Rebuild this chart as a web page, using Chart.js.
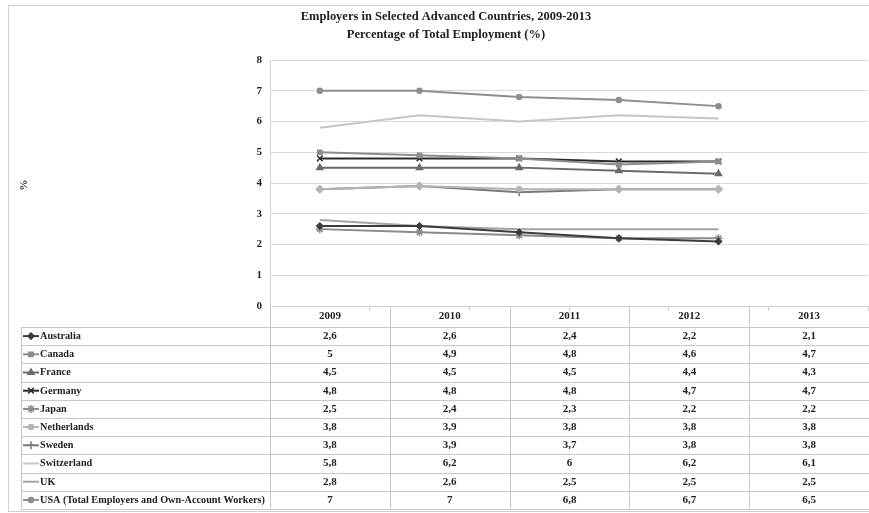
<!DOCTYPE html>
<html>
<head>
<meta charset="utf-8">
<script src="https://cdn.jsdelivr.net/npm/chart.js@4.4.0/dist/chart.umd.min.js"></script>
<style>
  html, body { margin: 0; padding: 0; background: #fff; }
  #wrap { width: 869px; height: 513px; position: relative; }
</style>
</head>
<body>
<div id="wrap"><canvas id="chart"></canvas></div>
<script>
// data (table below the chart)
var years = ['2009', '2010', '2011', '2012', '2013'];
var countries = ['Australia', 'Canada', 'France', 'Germany', 'Japan', 'Netherlands',
                 'Sweden', 'Switzerland', 'UK', 'USA (Total Employers and Own-Account Workers)'];
var australia   = [2.6, 2.6, 2.4, 2.2, 2.1];
var canada      = [5, 4.9, 4.8, 4.6, 4.7];
var france      = [4.5, 4.5, 4.5, 4.4, 4.3];
var germany     = [4.8, 4.8, 4.8, 4.7, 4.7];
var japan       = [2.5, 2.4, 2.3, 2.2, 2.2];
var netherlands = [3.8, 3.9, 3.8, 3.8, 3.8];
var sweden      = [3.8, 3.9, 3.7, 3.8, 3.8];
var switzerland = [5.8, 6.2, 6, 6.2, 6.1];
var uk          = [2.8, 2.6, 2.5, 2.5, 2.5];
var usa         = [7, 7, 6.8, 6.7, 6.5];
var yTicks = [0, 1, 2, 3, 4, 5, 6, 7, 8];
var titleLines = ['Employers in Selected Advanced Countries, 2009-2013', 'Percentage of Total Employment (%)'];

var values = [australia, canada, france, germany, japan, netherlands, sweden, switzerland, uk, usa];
var colors = ['#3c3c3c', '#8c8c8c', '#6a6a6a', '#2a2a2a', '#8a8a8a', '#b4b4b4', '#787878', '#c6c6c6', '#a4a4a4', '#8e8e8e'];
var styles = ['rectRot', 'rect', 'triangle', 'crossRot', 'star', 'circle', 'cross', false, false, 'circle'];
var radii  = [3, 3, 3.5, 4, 4, 2.5, 4, 0, 0, 2.5];

var serif = '"Liberation Serif", "Times New Roman", serif';

var datasets = countries.map(function(name, i) {
  return {
    label: name,
    data: values[i],
    borderColor: colors[i],
    backgroundColor: colors[i],
    borderWidth: 2,
    pointStyle: styles[i],
    pointRadius: radii[i],
    pointBorderWidth: 1.5,
    tension: 0
  };
});

// the original text is a bit narrower than Liberation Serif
function narrowText(ctx, text, x, y, sx) {
  ctx.save();
  ctx.translate(x, y);
  ctx.scale(sx, 1);
  ctx.fillText(text, 0, 0);
  ctx.restore();
}

var tablePlugin = {
  id: 'tablePlugin',
  afterDraw: function(chart) {
    var ctx = chart.ctx;
    var area = chart.chartArea;
    var colW = (chart.width - area.left) / years.length;
    var top = area.bottom;
    var headH = 21;
    var rowH = 18.2;
    var tableLeft = 21;
    var tableBottom = top + headH + rowH * countries.length;
    ctx.save();

    // outer frame
    ctx.strokeStyle = '#d0d0d0';
    ctx.lineWidth = 1;
    ctx.strokeRect(8.5, 5.5, chart.width, chart.height - 7);

    // title
    ctx.fillStyle = '#222';
    ctx.font = 'bold 13px ' + serif;
    ctx.textAlign = 'center';
    ctx.textBaseline = 'middle';
    titleLines.forEach(function(t, i) {
      narrowText(ctx, t, 446, 17 + i * 18, 0.96);
    });

    // y axis title
    ctx.save();
    ctx.translate(24, 185);
    ctx.rotate(-Math.PI / 2);
    ctx.fillStyle = '#333';
    ctx.font = 'bold 11px ' + serif;
    ctx.fillText('%', 0, 0);
    ctx.restore();

    // grid of the data table
    ctx.strokeStyle = '#c8c8c8';
    ctx.beginPath();
    for (var c = 0; c <= years.length; c++) {
      var x = Math.round(area.left + c * colW) + 0.5;
      ctx.moveTo(x, top);
      ctx.lineTo(x, tableBottom);
    }
    ctx.moveTo(tableLeft + 0.5, top + headH);
    ctx.lineTo(tableLeft + 0.5, tableBottom);
    for (var r = 0; r <= countries.length; r++) {
      var y = Math.round(top + headH + r * rowH) + 0.5;
      ctx.moveTo(tableLeft, y);
      ctx.lineTo(chart.width, y);
    }
    ctx.stroke();

    ctx.fillStyle = '#222';
    ctx.font = 'bold 11px ' + serif;
    years.forEach(function(yr, c) {
      ctx.fillText(yr, area.left + (c + 0.5) * colW, top + headH / 2);
    });

    countries.forEach(function(name, r) {
      var cy = top + headH + (r + 0.5) * rowH;
      // legend key
      ctx.strokeStyle = colors[r];
      ctx.fillStyle = colors[r];
      ctx.lineWidth = 2;
      ctx.beginPath();
      ctx.moveTo(23, cy);
      ctx.lineTo(39, cy);
      ctx.stroke();
      if (styles[r]) {
        ctx.lineWidth = 1.5;
        Chart.helpers.drawPoint(ctx, { pointStyle: styles[r], radius: radii[r], rotation: 0, borderWidth: 1.5 }, 31, cy);
      }
      ctx.fillStyle = '#222';
      ctx.textAlign = 'left';
      narrowText(ctx, name, 40, cy, 0.93);
      ctx.textAlign = 'center';
      values[r].forEach(function(v, c) {
        ctx.fillText(String(v).replace('.', ','), area.left + (c + 0.5) * colW, cy);
      });
    });
    ctx.restore();
  }
};

var ctx = document.getElementById('chart').getContext('2d');
var chart = new Chart(ctx, {
  type: 'line',
  data: { labels: years, datasets: datasets },
  options: {
    responsive: true,
    maintainAspectRatio: false,
    animation: false,
    layout: { autoPadding: false, padding: { left: 240, right: 1, top: 60, bottom: 202 } },
    plugins: {
      legend: { display: false },
      tooltip: { enabled: false },
      title: { display: false }
    },
    scales: {
      x: {
        type: 'category',
        labels: years.concat(['']),
        offset: true,
        ticks: { display: false },
        grid: { offset: true, drawOnChartArea: false, color: '#d0d0d0', tickLength: 5 },
        border: { color: '#d0d0d0' },
        afterFit: function(s) { s.height = 5; s.paddingLeft = 0; s.paddingRight = 0; }
      },
      y: {
        min: yTicks[0],
        max: yTicks[yTicks.length - 1],
        afterBuildTicks: function(s) { s.ticks = yTicks.map(function(v) { return { value: v }; }); },
        ticks: { color: '#222', font: { family: serif, size: 11, weight: 'bold' }, padding: 8 },
        grid: { color: '#d9d9d9', drawTicks: false },
        border: { color: '#d0d0d0' },
        afterFit: function(s) { s.width = 30; s.paddingTop = 0; s.paddingBottom = 0; }
      }
    }
  },
  plugins: [tablePlugin]
});
</script>
</body>
</html>
